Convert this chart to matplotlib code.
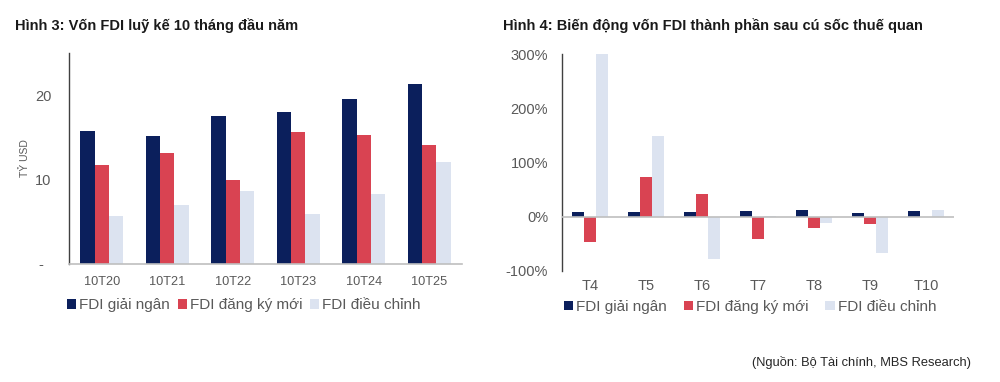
import matplotlib
matplotlib.use("Agg")
import matplotlib.pyplot as plt
import numpy as np

plt.rcParams['font.family'] = ['Liberation Sans', 'DejaVu Sans']

# ---- data ----
series_names = ["FDI giải ngân", "FDI đăng ký mới", "FDI điều chỉnh"]
colors = ["#0B1F5C", "#D94352", "#DCE3F0"]

left_categories = ["10T20", "10T21", "10T22", "10T23", "10T24", "10T25"]
left_giai_ngan = [15.8, 15.2, 17.6, 18.0, 19.6, 21.3]
left_dang_ky = [11.7, 13.1, 10.0, 15.7, 15.3, 14.1]
left_dieu_chinh = [5.7, 7.0, 8.7, 5.9, 8.3, 12.1]

right_categories = ["T4", "T5", "T6", "T7", "T8", "T9", "T10"]
right_giai_ngan = [8, 9, 9, 10, 12, 7, 11]
right_dang_ky = [-47, 73, 43, -41, -20, -13, 0]
right_dieu_chinh = [300, 149, -77, 1, -11, -66, 12]

left_ticks = [0, 10, 20]
left_ticklabels = ["-  ", "10", "20"]
right_ticks = [-100, 0, 100, 200, 300]
right_ticklabels = ["-100%", "0%", "100%", "200%", "300%"]

fig = plt.figure(figsize=(10, 3.82), dpi=100)
gray = "#595959"

def draw(ax, cats, series, xfs):
    x = np.arange(len(cats))
    w = 0.22
    for i, (vals, c, n) in enumerate(zip(series, colors, series_names)):
        ax.bar(x + (i - 1) * w, vals, w, color=c, label=n, zorder=2)
    ax.set_xticks(x)
    ax.set_xticklabels(cats, fontsize=xfs, color=gray)
    ax.set_xlim(-0.5, len(cats) - 0.5)
    for s in ["top", "right"]:
        ax.spines[s].set_visible(False)
    ax.spines["left"].set_color("#404040")
    ax.spines["left"].set_linewidth(1.0)
    ax.tick_params(axis="both", length=0)

# left chart
ax1 = fig.add_axes([0.069, 0.309, 0.393, 0.552])
draw(ax1, left_categories, [left_giai_ngan, left_dang_ky, left_dieu_chinh], 9.2)
ax1.set_ylim(0, 25)
ax1.set_yticks(left_ticks)
ax1.set_yticklabels(left_ticklabels, fontsize=10.5, color=gray)
ax1.tick_params(axis="y", pad=12.5)
ax1.tick_params(axis="x", pad=9)
ax1.spines["bottom"].set_color("#BFBFBF")
ax1.spines["bottom"].set_linewidth(1.2)
ax1.set_ylabel("TỶ USD", fontsize=7.5, color=gray)
ax1.yaxis.set_label_coords(-0.10, 0.5)
ax1.legend(loc="upper center", bbox_to_anchor=(0.445, -0.097), ncol=3, frameon=False,
           fontsize=11, handlelength=0.6, handleheight=0.6, handletextpad=0.2,
           columnspacing=0.5, labelcolor=gray)

# right chart
ax2 = fig.add_axes([0.562, 0.2906, 0.392, 0.5674])
draw(ax2, right_categories, [right_giai_ngan, right_dang_ky, right_dieu_chinh], 10.5)
ax2.set_ylim(-100, 300)
ax2.set_yticks(right_ticks)
ax2.set_yticklabels(right_ticklabels, fontsize=10.5, color=gray)
ax2.tick_params(axis="y", pad=10)
ax2.tick_params(axis="x", pad=6)
ax2.spines["bottom"].set_visible(False)
ax2.axhline(0, color="#BFBFBF", linewidth=1.2, zorder=3)
ax2.legend(loc="upper center", bbox_to_anchor=(0.48, -0.07), ncol=3, frameon=False,
           fontsize=11, handlelength=0.6, handleheight=0.6, handletextpad=0.2,
           columnspacing=1.1, labelcolor=gray)

fig.text(0.015, 0.932, "Hình 3: Vốn FDI luỹ kế 10 tháng đầu năm", fontsize=10.5,
         fontweight="bold", color="#1a1a1a", va="center", ha="left")
fig.text(0.503, 0.932, "Hình 4: Biến động vốn FDI thành phần sau cú sốc thuế quan", fontsize=10.5,
         fontweight="bold", color="#1a1a1a", va="center", ha="left")
fig.text(0.971, 0.05, "(Nguồn: Bộ Tài chính, MBS Research)", fontsize=9.3,
         color="#262626", va="center", ha="right")

fig.savefig("out.png", dpi=100, facecolor="white")
